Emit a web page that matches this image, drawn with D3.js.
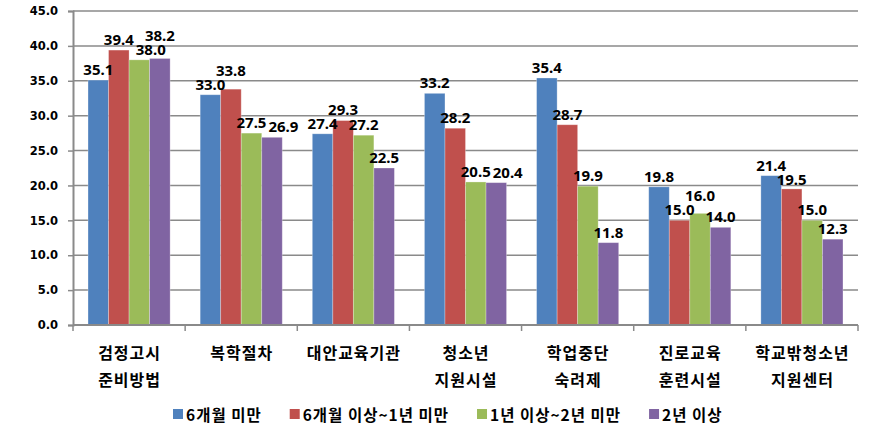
<!DOCTYPE html>
<html><head><meta charset="utf-8">
<script src="https://cdn.jsdelivr.net/npm/d3@7"></script>
<style>body{margin:0;background:#fff}svg{display:block}</style>
</head><body>
<svg id="chart" width="875" height="440"></svg>
<script>
const categories = [["검정고시","준비방법"],["복학절차"],["대안교육기관"],["청소년","지원시설"],["학업중단","숙려제"],["진로교육","훈련시설"],["학교밖청소년","지원센터"]];
const seriesNames = ["6개월 미만","6개월 이상~1년 미만","1년 이상~2년 미만","2년 이상"];
const s1 = [35.1, 33.0, 27.4, 33.2, 35.4, 19.8, 21.4];
const s2 = [39.4, 33.8, 29.3, 28.2, 28.7, 15.0, 19.5];
const s3 = [38.0, 27.5, 27.2, 20.5, 19.9, 16.0, 15.0];
const s4 = [38.2, 26.9, 22.5, 20.4, 11.8, 14.0, 12.3];
const yTicks = [0,5,10,15,20,25,30,35,40,45];
const colors = ["#4F81BD","#C0504D","#9BBB59","#8064A2"];
const series = [s1,s2,s3,s4];

const svg = d3.select("#chart");
const mLeft = 73, mRight = 858, mTop = 11, mBottom = 325;
const x = d3.scaleBand().domain(d3.range(categories.length)).range([mLeft, mRight]).paddingInner(0).paddingOuter(0);
const y = d3.scaleLinear().domain([0,45]).range([mBottom, mTop]);
const groupW = x.bandwidth() * 82/112;
const xs = d3.scaleBand().domain(d3.range(4)).range([0, groupW]).padding(0);
const off = (x.bandwidth() - groupW)/2;

// gridlines
svg.append("g").selectAll("line").data(yTicks.filter(d=>d>0)).join("line")
  .attr("x1", mLeft).attr("x2", mRight).attr("y1", d=>y(d)).attr("y2", d=>y(d))
  .attr("stroke", "#8a8a8a").attr("stroke-width", 1.5);

// y axis
const yAxis = svg.append("g").attr("transform", `translate(${mLeft},0)`)
  .call(d3.axisLeft(y).tickValues(yTicks).tickFormat(d3.format(".1f")).tickSize(5).tickPadding(10));
yAxis.select(".domain").attr("stroke", "#8a8a8a").attr("stroke-width", 2);
yAxis.selectAll(".tick line").attr("stroke", "#8a8a8a").attr("stroke-width", 1.5);
yAxis.selectAll(".tick text").attr("font-family", "DejaVu Sans").attr("font-weight", "bold").attr("font-size", 11.5).attr("fill", "#000");

// bars
series.forEach((s, i) => {
  svg.append("g").selectAll("rect").data(s).join("rect")
    .attr("x", (d, j) => x(j) + off + xs(i))
    .attr("y", d => y(d))
    .attr("width", xs.bandwidth())
    .attr("height", d => y(0) - y(d))
    .attr("fill", colors[i])
    .attr("stroke", "#ffffff").attr("stroke-opacity", 0.35).attr("stroke-width", 0.8);
});

// x axis
const xAxis = svg.append("g").attr("transform", `translate(0,${mBottom})`);
xAxis.append("line").attr("x1", mLeft).attr("x2", mRight).attr("stroke", "#8a8a8a").attr("stroke-width", 2);
xAxis.selectAll("line.tk").data(d3.range(categories.length + 1)).join("line").attr("class","tk")
  .attr("x1", d => d < categories.length ? x(d) : mRight).attr("x2", d => d < categories.length ? x(d) : mRight)
  .attr("y1", 0).attr("y2", 6).attr("stroke", "#8a8a8a").attr("stroke-width", 1.5);

// category labels
categories.forEach((lines, j) => {
  const t = svg.append("text").attr("text-anchor", "middle")
    .attr("font-family", "Noto Sans CJK KR").attr("font-weight", "bold").attr("font-size", 16)
    .attr("letter-spacing", 1).attr("fill", "#000");
  lines.forEach((ln, k) => {
    t.append("tspan").attr("x", x(j) + x.bandwidth()/2 + 0.5).attr("y", 359 + k*27).text(ln);
  });
});

// data labels with simple collision avoidance within each group
const labelH = 14, hMargin = 2;
const lblG = svg.append("g");
categories.forEach((c, j) => {
  const placed = [];
  series.forEach((s, i) => {
    const d = s[j];
    const cx = x(j) + off + xs(i) + xs.bandwidth()/2;
    const t = lblG.append("text")
      .attr("text-anchor", "middle")
      .attr("font-family", "Noto Sans").attr("font-weight", "bold").attr("font-size", 15).attr("fill", "#000")
      .text(d.toFixed(1));
    const w = t.node().getComputedTextLength();
    const top0 = y(d);
    let bx = cx, by = top0 - 5;
    const overlaps = (ax, ay) => placed.find(p =>
      Math.abs(ax - p.x) < (w + p.w)/2 + hMargin && ay > p.y - labelH && ay - labelH < p.y);
    let guard = 0, o;
    while ((o = overlaps(bx, by)) && guard++ < 6) {
      const upShift = by - (o.y - labelH);
      const downShift = o.y + labelH - by;
      const downAllowed = by + downShift <= top0 - 1;
      const rightShift = (w + o.w)/2 + hMargin - (bx - o.x);
      const opts = [{dy: -upShift, dx: 0, m: upShift}, {dx: rightShift, dy: 0, m: rightShift}];
      if (downAllowed) opts.push({dy: downShift, dx: 0, m: downShift});
      opts.sort((a, b) => a.m - b.m);
      bx += opts[0].dx; by += opts[0].dy;
    }
    placed.push({x: bx, y: by, w});
    t.attr("x", bx).attr("y", by);
  });
});

// legend
let lx = 173;
const lg = svg.append("g");
seriesNames.forEach((n, i) => {
  lg.append("rect").attr("x", lx).attr("y", 409).attr("width", 10).attr("height", 10).attr("fill", colors[i]);
  const t = lg.append("text").attr("x", lx + 13).attr("y", 421)
    .attr("font-family", "Noto Sans CJK KR").attr("font-weight", "bold").attr("font-size", 15.5)
    .attr("letter-spacing", 1).attr("fill", "#000").text(n);
  lx += 13 + t.node().getComputedTextLength() + 28;
});
</script>
</body></html>
